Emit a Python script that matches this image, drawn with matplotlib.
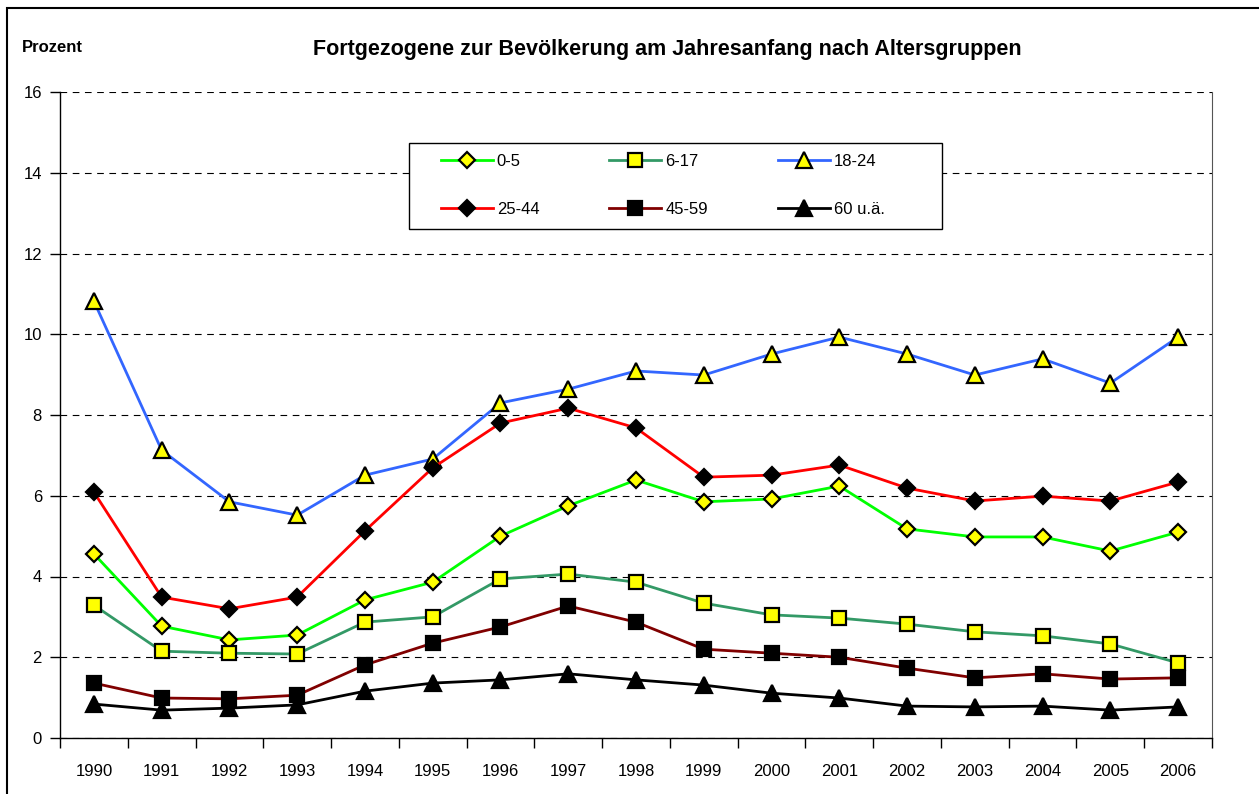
import matplotlib
matplotlib.use("Agg")
import matplotlib.pyplot as plt
from matplotlib.patches import Rectangle
import numpy as np

# Jahre und Altersgruppen (Prozent)
years = ["1990", "1991", "1992", "1993", "1994", "1995", "1996", "1997", "1998",
         "1999", "2000", "2001", "2002", "2003", "2004", "2005", "2006"]

age_0_5 = [4.56, 2.77, 2.43, 2.55, 3.42, 3.86, 5.00, 5.75, 6.39,
           5.85, 5.92, 6.24, 5.18, 4.98, 4.98, 4.63, 5.10]
age_6_17 = [3.29, 2.15, 2.10, 2.08, 2.87, 3.00, 3.94, 4.06, 3.86,
            3.34, 3.05, 2.97, 2.82, 2.63, 2.53, 2.33, 1.86]
age_18_24 = [10.82, 7.13, 5.85, 5.52, 6.51, 6.91, 8.30, 8.64, 9.09,
             8.99, 9.51, 9.93, 9.51, 8.99, 9.39, 8.79, 9.93]
age_25_44 = [6.09, 3.49, 3.20, 3.49, 5.13, 6.69, 7.80, 8.17, 7.68,
             6.46, 6.51, 6.76, 6.19, 5.87, 5.99, 5.87, 6.34]
age_45_59 = [1.36, 0.99, 0.97, 1.06, 1.81, 2.35, 2.75, 3.27, 2.87,
             2.20, 2.10, 2.00, 1.73, 1.49, 1.59, 1.46, 1.49]
age_60 = [0.84, 0.69, 0.74, 0.82, 1.16, 1.36, 1.44, 1.59, 1.44,
          1.31, 1.11, 0.99, 0.79, 0.77, 0.79, 0.69, 0.77]

labels = ["0-5", "6-17", "18-24", "25-44", "45-59", "60 u.ä."]

FONT = ["Liberation Sans", "DejaVu Sans"]
plt.rcParams["font.family"] = FONT

W, H = 1259, 794
fig = plt.figure(figsize=(W / 100, H / 100), dpi=100)

# outer chart frame
fig.patches.append(Rectangle((7 / W, -0.1), 1.2, 1 - 8 / H + 0.1,
                             transform=fig.transFigure, fill=False,
                             edgecolor="black", lw=1.5))

L, R, T, B = 60, 1212, 92, 738
ax = fig.add_axes([L / W, 1 - B / H, (R - L) / W, (B - T) / H])

def ax_x(px):
    return (px - L) / (R - L)

def ax_y(py):
    return (B - py) / (B - T)

x = np.arange(len(years))
series = [
    (age_0_5, "#00FF00", "D", "#FFFF00", 8),
    (age_6_17, "#339966", "s", "#FFFF00", 10),
    (age_18_24, "#3366FF", "^", "#FFFF00", 11),
    (age_25_44, "#FF0000", "D", "black", 8),
    (age_45_59, "#800000", "s", "black", 10),
    (age_60, "black", "^", "black", 11),
]
handles = []
for (vals, col, mk, fc, ms), lab in zip(series, labels):
    h, = ax.plot(x, vals, color=col, lw=2, marker=mk, markersize=ms,
                 markerfacecolor=fc, markeredgecolor="black", markeredgewidth=1.6,
                 label=lab, zorder=3)
    handles.append(h)

ax.set_xlim(-0.5, len(years) - 0.5)
ax.set_ylim(0, 16)
ax.set_yticks(range(0, 17, 2))
ax.set_yticklabels([str(v) for v in range(0, 17, 2)], fontsize=12)
ax.yaxis.grid(True, color="black", linestyle=(0, (6, 5)), lw=0.8)
ax.set_axisbelow(True)

ax.set_xticks(np.arange(-0.5, len(years), 1))
ax.set_xticklabels([])
ax.set_xticks(x, minor=True)
ax.set_xticklabels(years, minor=True, fontsize=12)
ax.tick_params(axis="x", which="minor", length=0, pad=19)
ax.tick_params(axis="x", which="major", length=7, width=1, direction="out")
ax.tick_params(axis="y", length=7, width=1, direction="out", pad=6)

ax.spines["top"].set_visible(False)
ax.spines["right"].set_color("#555555")
for s in ["left", "bottom"]:
    ax.spines[s].set_linewidth(1)

# legend, row-wise order like the original
order = [0, 3, 1, 4, 2, 5]
leg = ax.legend([handles[i] for i in order], [labels[i] for i in order],
                ncol=3, loc="upper left",
                bbox_to_anchor=(ax_x(441), ax_y(154)),
                frameon=False, borderpad=0, borderaxespad=0,
                handlelength=3.1, columnspacing=4.2,
                labelspacing=1.95, handletextpad=0.25, fontsize=12)
ax.add_patch(Rectangle((ax_x(409), ax_y(229)), ax_x(942) - ax_x(409),
                       ax_y(143) - ax_y(229), transform=ax.transAxes,
                       facecolor="white", edgecolor="black", lw=1, zorder=4))
leg.set_zorder(5)

fig.text(667 / W, 1 - 50 / H, "Fortgezogene zur Bevölkerung am Jahresanfang nach Altersgruppen",
         ha="center", va="center", fontsize=15.5, fontweight="bold")
fig.text(22 / W, 1 - 48 / H, "Prozent", ha="left", va="center", fontsize=12,
         fontweight="bold")

fig.savefig("out.png", dpi=100)
